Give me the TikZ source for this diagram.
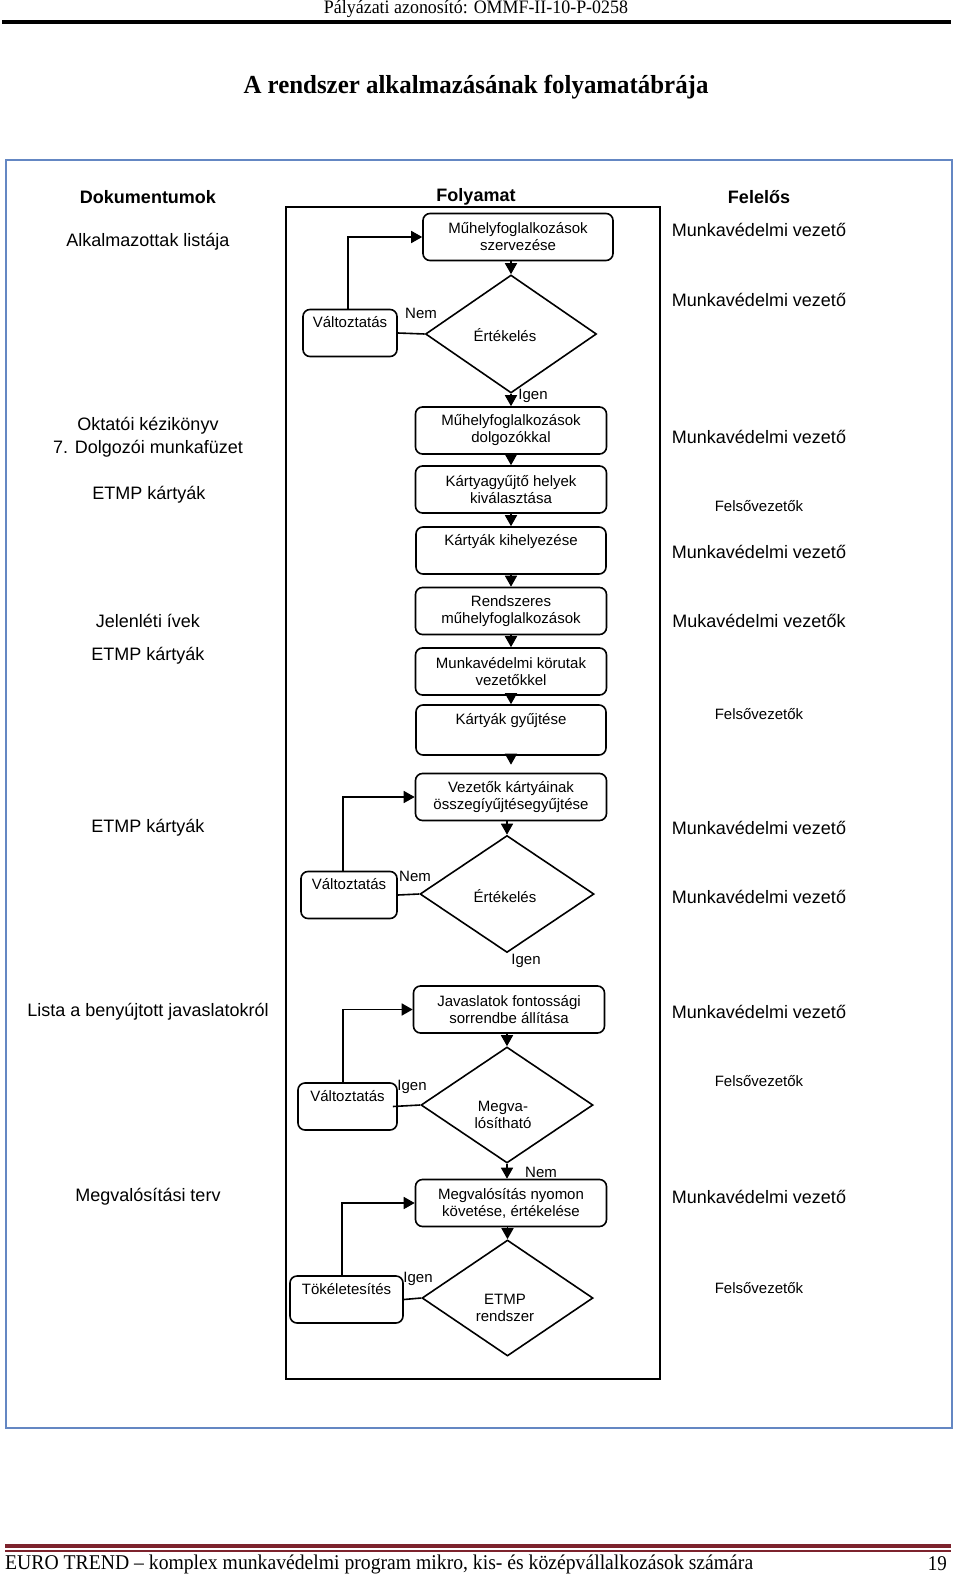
\documentclass[tikz,border=0pt]{standalone}
\usepackage{fontspec}
\setmainfont{Liberation Sans}
\newfontfamily\serifhdr{Liberation Serif}
\usetikzlibrary{shapes.geometric,arrows.meta}
\definecolor{frameblue}{RGB}{100,135,195}
\definecolor{footred}{RGB}{125,35,45}
\tikzset{
  box/.style={draw, line width=1.6pt, rounded corners=7pt, align=center, inner sep=0pt,
    font=\fontsize{15}{17}\selectfont, minimum height=47pt, minimum width=191pt},
  sidebox/.style={draw, line width=1.6pt, rounded corners=7pt, align=center, inner sep=0pt,
    font=\fontsize{15}{17}\selectfont, minimum height=47pt},
  diam/.style={draw, diamond, line width=1.6pt, inner sep=0pt},
  arr/.style={-{Triangle[width=12pt,length=11pt]}, line width=1.6pt},
  link/.style={line width=1.6pt},
  lbl/.style={font=\fontsize{15}{17}\selectfont, inner sep=0pt, align=center},
  col/.style={font=\fontsize{18}{23}\selectfont, inner sep=0pt, align=center},
  colhead/.style={font=\fontsize{18}{21}\selectfont\bfseries, inner sep=0pt},
}
\begin{document}
\begin{tikzpicture}[x=1pt,y=-1pt]
\fill[white] (0,0) rectangle (960,1578);
\useasboundingbox (0,0) rectangle (960,1578);

% page header
\node[inner sep=0pt] (hdr) at (476,9) {\resizebox{304pt}{\height}{\serifhdr\fontsize{19}{22}\selectfont Pályázati azonosító: OMMF-II-10-P-0258}};
\draw[line width=3.5pt] (2,22) -- (951,22);
\node[inner sep=0pt] (title) at (476,87) {\resizebox{465pt}{\height}{\serifhdr\fontsize{26}{30}\selectfont\bfseries A rendszer alkalmazásának folyamatábrája}};

% frames
\draw[frameblue, line width=2pt] (6,160) rectangle (952,1428);
\draw[line width=2pt] (286,207) rectangle (660,1379);

% column heads
\node[colhead] (hdoc) at (148,197) {Dokumentumok};
\node[colhead] (hfoly) at (476,197) {Folyamat};
\node[colhead] (hfel) at (759,197) {Felelős};

% process boxes
\node[box, minimum width=190pt] (b1) at (518,237) {Műhelyfoglalkozások\\szervezése};
\node[diam, minimum width=171pt, minimum height=118pt] (d1) at (511,334) {};
\node[lbl] (d1t) at (505,335) {Értékelés};
\node[sidebox, minimum width=94pt] (v1) at (350,333) {\strut Változtatás\\\strut};

\node[box] (b2) at (511,430.5) {Műhelyfoglalkozások\\dolgozókkal};
\node[box] (b3) at (511,489.5) {Kártyagyűjtő helyek\\kiválasztása};
\node[box, minimum width=190pt] (b4) at (511,550.5) {\strut Kártyák kihelyezése\\\strut};
\node[box] (b5) at (511,611) {Rendszeres\\műhelyfoglalkozások};
\node[box] (b6) at (511,671.5) {Munkavédelmi körutak\\vezetőkkel};
\node[box, minimum width=190pt, minimum height=50pt] (b7) at (511,730) {\strut Kártyák gyűjtése\\\strut};
\node[box] (b8) at (511,797) {Vezetők kártyáinak\\összegíyűjtésegyűjtése};
\node[diam, minimum width=174pt, minimum height=117pt] (d2) at (507,894) {};
\node[lbl] (d2t) at (505,896) {Értékelés};
\node[sidebox, minimum width=96pt] (v2) at (349,895) {\strut Változtatás\\\strut};

\node[box] (b9) at (509,1009.5) {Javaslatok fontossági\\sorrendbe állítása};
\node[diam, minimum width=172pt, minimum height=116pt] (d3) at (507,1105) {};
\node[lbl] (d3t) at (503,1115) {Megva-\\lósítható};
\node[sidebox, minimum width=99pt] (v3) at (347.5,1106.5) {\strut Változtatás\\\strut};

\node[box] (b10) at (511,1203) {Megvalósítás nyomon\\követése, értékelése};
\node[diam, minimum width=171pt, minimum height=116pt] (d4) at (507.5,1298) {};
\node[lbl] (d4t) at (505,1308) {ETMP\\rendszer};
\node[sidebox, minimum width=113pt] (tok) at (346.5,1299.5) {\strut Tökéletesítés\\\strut};

% connectors
\draw[arr] (b1.south -| d1.north) -- (d1.north);
\draw[link] (v1.east) -- (d1.west);
\draw[arr] ([xshift=-2pt]v1.north) |- (b1.west);
\draw[arr] (d1.south) -- (b2.north);
\draw[arr] (b2.south) -- (b3.north);
\draw[arr] (b3.south) -- (b4.north);
\draw[arr] (b4.south) -- (b5.north);
\draw[arr] (b5.south) -- (b6.north);
\draw[arr] (b6.south) -- (b7.north);
\draw[arr] (b7.south) -- ([yshift=8pt]b8.north);
\draw[arr] (b8.south -| d2.north) -- (d2.north);
\draw[link] (v2.east) -- (d2.west);
\draw[arr] ([xshift=-6pt]v2.north) |- (b8.west);

\draw[arr] (b9.south -| d3.north) -- (d3.north);
\draw[link] ([xshift=-5pt]v3.east) -- (d3.west);
\draw[arr] ([xshift=-4.5pt]v3.north) |- (b9.west);
\draw[arr] (d3.south) -- (d3.south |- b10.north);
\draw[arr] (b10.south -| d4.north) -- (d4.north);
\draw[link] (tok.east) -- (d4.west);
\draw[arr] ([xshift=-4.5pt]tok.north) |- (b10.west);

% branch labels
\node[lbl] (n1) at (421,313) {Nem};
\node[lbl] (i1) at (533,396) {Igen};
\node[lbl] (n2) at (415,876) {Nem};
\node[lbl] (i2) at (526,961) {Igen};
\node[lbl] (i3) at (412,1087) {Igen};
\node[lbl] (n3) at (541,1172) {Nem};
\node[lbl] (i4) at (418,1279) {Igen};

% documents column
\node[col] (doc1) at (148,242) {Alkalmazottak listája};
\node[col] (doc2) at (148,437) {Oktatói kézikönyv\\7. Dolgozói munkafüzet};
\node[col] (doc3) at (149,495) {ETMP kártyák};
\node[col] (doc4) at (148,621) {Jelenléti ívek};
\node[col] (doc5) at (148,656) {ETMP kártyák};
\node[col] (doc6) at (148,828) {ETMP kártyák};
\node[col] (doc7) at (148,1012) {Lista a benyújtott javaslatokról};
\node[col] (doc8) at (148,1197) {Megvalósítási terv};

% responsible column
\node[col] (r1) at (759,230) {Munkavédelmi vezető};
\node[col] (r2) at (759,300) {Munkavédelmi vezető};
\node[col] (r3) at (759,437) {Munkavédelmi vezető};
\node[lbl] (r4) at (759,506) {Felsővezetők};
\node[col] (r5) at (759,552) {Munkavédelmi vezető};
\node[col] (r6) at (759,621) {Mukavédelmi vezetők};
\node[lbl] (r7) at (759,714) {Felsővezetők};
\node[col] (r8) at (759,828) {Munkavédelmi vezető};
\node[col] (r9) at (759,897) {Munkavédelmi vezető};
\node[col] (r10) at (759,1012) {Munkavédelmi vezető};
\node[lbl] (r11) at (759,1081) {Felsővezetők};
\node[col] (r12) at (759,1197) {Munkavédelmi vezető};
\node[lbl] (r13) at (759,1288) {Felsővezetők};

% page footer
\fill[footred] (5,1544) rectangle (951,1548);
\draw[footred, line width=1.2pt] (5,1551) -- (951,1551);
\node[inner sep=0pt, anchor=west] (foot) at (5,1564) {\resizebox{748pt}{\height}{\serifhdr\fontsize{21}{25}\selectfont EURO TREND – komplex munkavédelmi program mikro, kis- és középvállalkozások számára}};
\node[inner sep=0pt, anchor=east] (pg) at (947,1564) {\resizebox{19pt}{\height}{\serifhdr\fontsize{21}{25}\selectfont 19}};
\end{tikzpicture}
\end{document}
